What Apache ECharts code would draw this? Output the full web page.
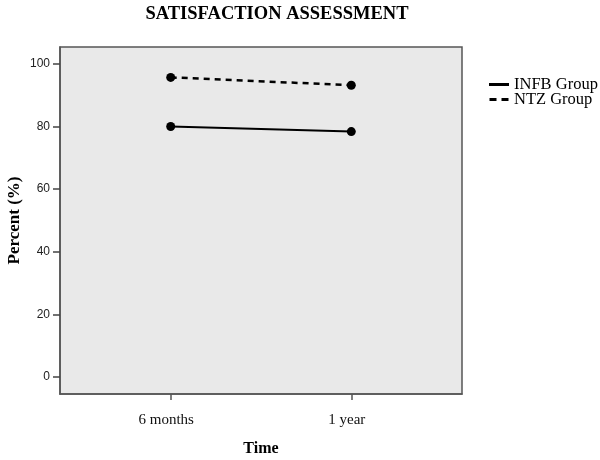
<!DOCTYPE html>
<html><head><meta charset="utf-8">
<script src="https://cdn.jsdelivr.net/npm/echarts@6/dist/echarts.min.js"></script>
<style>html,body{margin:0;padding:0;background:#fff}#c{width:600px;height:460px}</style>
</head><body><div id="c"></div>
<script>
var categories = ['6 months', '1 year'];
var infb = [80.0, 78.4];
var ntz = [95.7, 93.2];
var yTicks = [0, 20, 40, 60, 80, 100];

var chart = echarts.init(document.getElementById('c'));
var serif = '"Liberation Serif","Times New Roman",serif';
var sans = '"Liberation Sans",Arial,sans-serif';
function pts(arr){ return arr.map(function(v,i){ return [i, v]; }); }
chart.setOption({
  animation: false,
  backgroundColor: '#fff',
  title: {
    text: 'SATISFACTION ASSESSMENT', left: 272, top: 0, textAlign: 'center',
    textStyle: { fontFamily: serif, fontWeight: 'bold', fontSize: 18.5, color: '#000' }
  },
  grid: { left: 60, top: 47, width: 402, height: 347, outerBoundsMode: 'none', containLabel: false,
    show: true, backgroundColor: '#e9e9e9', borderColor: '#555', borderWidth: 1.5 },
  legend: {
    orient: 'vertical', left: 489, top: 76, padding: 0, itemGap: -2, itemWidth: 20, itemHeight: 3,
    textStyle: { fontFamily: serif, fontSize: 16.5, color: '#000' },
    data: [
      { name: 'INFB Group', icon: 'path://M0,0H20V3H0Z' },
      { name: 'NTZ Group', icon: 'path://M0,0H7V3H0Z M12,0H19V3H12Z' }
    ]
  },
  xAxis: {
    type: 'value', min: -0.613, max: 1.613,
    name: 'Time', nameLocation: 'middle', nameGap: 47,
    nameTextStyle: { fontFamily: serif, fontWeight: 'bold', fontSize: 16, color: '#000' },
    axisLine: { show: true, onZero: false, lineStyle: { color: '#555', width: 1.5 } },
    axisTick: { show: true, length: 6, customValues: [0, 1], lineStyle: { color: '#555', width: 1.5 } },
    axisLabel: { customValues: [0, 1], margin: 19, fontFamily: serif, fontSize: 15, color: '#111',
      padding: [0, 9, 0, 0],
      formatter: function(v){ return categories[Math.round(v)]; } },
    splitLine: { show: false }
  },
  yAxis: {
    type: 'value', min: -5.4, max: 105.4,
    name: 'Percent (%)', nameLocation: 'middle', nameGap: 37, nameMoveOverlap: false,
    nameTextStyle: { fontFamily: serif, fontWeight: 'bold', fontSize: 17, color: '#000' },
    axisLine: { show: true, onZero: false, lineStyle: { color: '#555', width: 1.5 } },
    axisTick: { show: true, length: 7, customValues: yTicks, lineStyle: { color: '#444', width: 1.5 } },
    axisLabel: { customValues: yTicks, margin: 10, fontFamily: sans, fontSize: 12, color: '#222' },
    splitLine: { show: false }
  },
  series: [
    { name: 'INFB Group', type: 'line', data: pts(infb), symbol: 'circle', symbolSize: 9,
      itemStyle: { color: '#000' }, lineStyle: { color: '#000', width: 2 } },
    { name: 'NTZ Group', type: 'line', data: pts(ntz), symbol: 'circle', symbolSize: 9,
      itemStyle: { color: '#000' }, lineStyle: { color: '#000', width: 2.5, type: [6, 5] } }
  ]
});
</script></body></html>
